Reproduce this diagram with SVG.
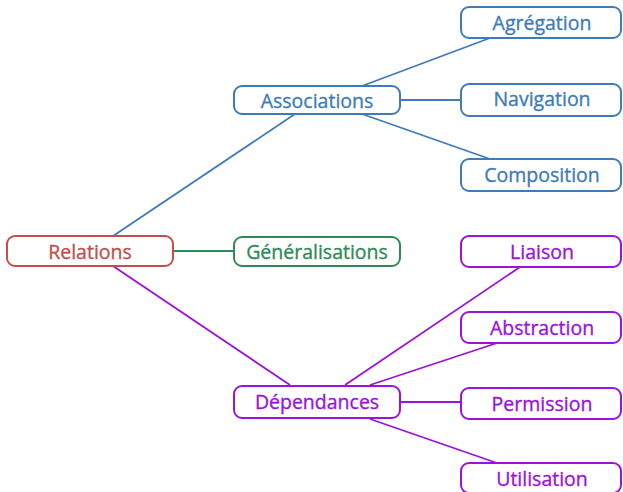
<svg xmlns="http://www.w3.org/2000/svg" width="623" height="492" viewBox="0 0 623 492">
<style>
rect{fill:#fff;stroke-width:2}
text{font-family:"Open Sans","Noto Sans",sans-serif;font-size:19.5px;text-anchor:middle;dominant-baseline:central;stroke-width:0.35}
.r rect{stroke:#c0504d}.r text{fill:#c0504d;stroke:#c0504d}
.b rect{stroke:#3f7bb6}.b text{fill:#3f7bb6;stroke:#3f7bb6}
.g rect{stroke:#2e8b57}.g text{fill:#2e8b57;stroke:#2e8b57}
.p rect{stroke:#9b13d9}.p text{fill:#9b13d9;stroke:#9b13d9}
#connectors line{stroke-width:1.8}
.cb{stroke:#3f7bb6}.cg{stroke:#2e8b57}.cp{stroke:#9b13d9}
</style>
<g id="connectors">
<line class="cb" x1="113" y1="236" x2="295" y2="114"/>
<line class="cg" x1="173" y1="251" x2="233" y2="251"/>
<line class="cp" x1="113" y1="266" x2="290" y2="385"/>
<line class="cb" x1="362" y1="86" x2="490" y2="38"/>
<line class="cb" x1="400" y1="100" x2="461" y2="100"/>
<line class="cb" x1="362" y1="114" x2="490" y2="159"/>
<line class="cp" x1="345" y1="385" x2="520" y2="267"/>
<line class="cp" x1="370" y1="385" x2="497" y2="343"/>
<line class="cp" x1="400" y1="402" x2="461" y2="402"/>
<line class="cp" x1="370" y1="419" x2="497" y2="463"/>
</g>
<g id="relations" class="r"><rect x="7" y="236" width="166" height="30" rx="8"/><text x="90" y="251">Relations</text></g>
<g id="associations" class="b"><rect x="234" y="86" width="166" height="28" rx="8"/><text x="317" y="100">Associations</text></g>
<g id="generalisations" class="g"><rect x="234" y="237" width="166" height="29" rx="8"/><text x="317" y="251">Généralisations</text></g>
<g id="dependances" class="p"><rect x="234" y="386" width="166" height="32" rx="8"/><text x="317" y="401">Dépendances</text></g>
<g id="agregation" class="b"><rect x="461" y="7" width="160" height="31" rx="8"/><text x="542" y="22">Agrégation</text></g>
<g id="navigation" class="b"><rect x="461" y="84" width="160" height="32" rx="8"/><text x="542" y="98">Navigation</text></g>
<g id="composition" class="b"><rect x="461" y="159" width="160" height="32" rx="8"/><text x="542" y="174">Composition</text></g>
<g id="liaison" class="p"><rect x="461" y="236" width="160" height="31" rx="8"/><text x="542" y="251">Liaison</text></g>
<g id="abstraction" class="p"><rect x="461" y="312" width="160" height="31" rx="8"/><text x="542" y="327">Abstraction</text></g>
<g id="permission" class="p"><rect x="461" y="388" width="160" height="31" rx="8"/><text x="542" y="403">Permission</text></g>
<g id="utilisation" class="p"><rect x="461" y="463" width="160" height="30" rx="8"/><text x="542" y="478">Utilisation</text></g>
</svg>
